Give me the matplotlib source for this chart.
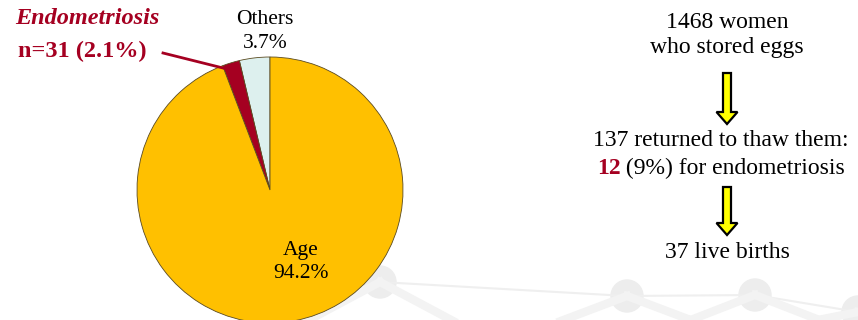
import matplotlib
matplotlib.use("Agg")
import matplotlib.pyplot as plt
import matplotlib.patches as mpatches

# pie data
slice_names = ["Others", "Endometriosis", "Age"]
slice_pcts = [3.7, 2.1, 94.2]
slice_colors = ["#DDF0EE", "#A50021", "#FFC000"]
endo_n = 31

# flow numbers
stored = 1468
returned = 137
returned_endo = 12
returned_endo_pct = 9
live_births = 37

dark_red = "#A50021"
serif = ["Liberation Serif", "DejaVu Serif"]

W, H = 858, 320
fig = plt.figure(figsize=(W / 100, H / 100), dpi=100)

# background axes (decoration), pixel coords, y down
deco = fig.add_axes([0, 0, 1, 1], zorder=0)
deco.set_xlim(0, W)
deco.set_ylim(H, 0)
deco.axis("off")
nodes = [(380, 282), (627, 296), (755, 295), (858, 312)]
for (x1, y1), (x2, y2) in zip(nodes[:-1], nodes[1:]):
    deco.plot([x1, x2], [y1, y2], color="#EFEFEF", lw=1.5)
for x, y in nodes:
    deco.plot([x, x - 90], [y, 330], color="#F3F3F3", lw=6)
    deco.plot([x, x + 90], [y, 330], color="#F3F3F3", lw=6)
    deco.add_patch(mpatches.Circle((x, y), 16, color="#EDEDED"))

# pie
cx, cy, r = 270, 190, 133
pie_ax = fig.add_axes([(cx - r) / W, (H - cy - r) / H, 2 * r / W, 2 * r / H], zorder=1)
pie_ax.pie(slice_pcts, colors=slice_colors, startangle=90, counterclock=True,
           radius=1, wedgeprops=dict(edgecolor="#5A4A20", linewidth=0.6))
pie_ax.set_xlim(-1, 1)
pie_ax.set_ylim(-1, 1)
pie_ax.set_aspect("equal")
pie_ax.axis("off")

# overlay axes for all text and arrows
bg = fig.add_axes([0, 0, 1, 1], zorder=2)
bg.set_xlim(0, W)
bg.set_ylim(H, 0)
bg.axis("off")
bg.patch.set_alpha(0)

fs = 15.5
bg.text(301, 250, slice_names[2], ha="center", va="center", fontsize=fs, family=serif)
bg.text(301, 273, f"{slice_pcts[2]}%", ha="center", va="center", fontsize=fs, family=serif)
bg.text(265, 19, slice_names[0], ha="center", va="center", fontsize=fs, family=serif)
bg.text(265, 43, f"{slice_pcts[0]}%", ha="center", va="center", fontsize=fs, family=serif)
bg.text(87, 19, slice_names[1], ha="center", va="center", fontsize=17.5,
        family=serif, style="italic", weight="bold", color=dark_red)
bg.text(82, 51, f"n={endo_n} ({slice_pcts[1]}%)", ha="center", va="center",
        fontsize=17.5, family=serif, weight="bold", color=dark_red)
bg.plot([163, 227], [53, 69], color=dark_red, lw=2)

# flow on the right
fx = 727
tfs = 17
bg.text(fx, 22, f"{stored} women", ha="center", va="center", fontsize=tfs, family=serif)
bg.text(fx, 48, "who stored eggs", ha="center", va="center", fontsize=tfs, family=serif)
bg.text(721, 140, f"{returned} returned to thaw them:", ha="center", va="center",
        fontsize=tfs, family=serif)
line2 = f" ({returned_endo_pct}%) for endometriosis"
t1 = bg.text(0, 168, f"{returned_endo}", ha="left", va="center", fontsize=tfs,
             family=serif, weight="bold", color=dark_red)
t2 = bg.text(0, 168, line2, ha="left", va="center", fontsize=tfs, family=serif)
fig.canvas.draw()
w1 = t1.get_window_extent().width
w2 = t2.get_window_extent().width
x0 = 721 - (w1 + w2) / 2
t1.set_x(x0)
t2.set_x(x0 + w1)
bg.text(fx, 253, f"{live_births} live births", ha="center", va="center",
        fontsize=tfs, family=serif)

for y0, y1 in [(73, 124), (187, 235)]:
    bg.add_patch(mpatches.FancyArrow(fx, y0, 0, y1 - y0, width=8, head_width=21,
                                     head_length=12, length_includes_head=True,
                                     facecolor="#FFFF00", edgecolor="black", lw=1.6))

fig.savefig("out.png", dpi=100)
